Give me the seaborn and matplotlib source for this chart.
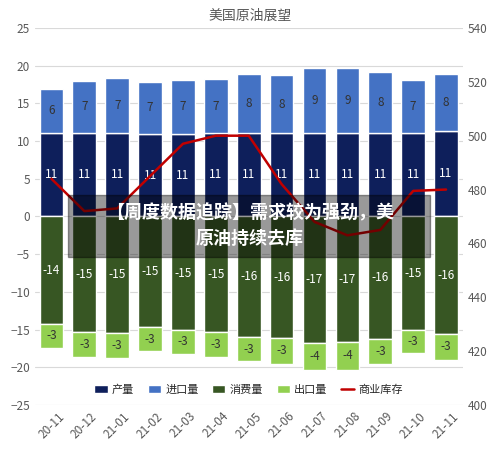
import matplotlib
matplotlib.use("Agg")
import matplotlib.pyplot as plt
import seaborn as sns
import numpy as np
import pandas as pd

sns.set_style("white")
plt.rcParams['font.family'] = ['Noto Sans CJK SC', 'DejaVu Sans']

months = ["20-11","20-12","21-01","21-02","21-03","21-04","21-05","21-06","21-07","21-08","21-09","21-10","21-11"]
production = [11.1,11.1,11.1,11.0,11.0,11.1,11.1,11.1,11.1,11.1,11.1,11.1,11.3]
imports = [5.8,6.9,7.3,6.9,7.1,7.1,7.8,7.6,8.6,8.6,8.1,7.0,7.6]
consumption = [-14.2,-15.3,-15.4,-14.7,-15.0,-15.3,-16.0,-16.1,-16.8,-16.7,-16.2,-15.0,-15.6]
exports = [-3.2,-3.4,-3.4,-3.2,-3.2,-3.4,-3.2,-3.4,-3.6,-3.6,-3.4,-3.1,-3.4]
inventory = [484,472,473,485,497,500,500,482,468,463,465,479.5,480]

fig = plt.figure(figsize=(5,4.51), dpi=100)
ax = fig.add_axes([0.07,0.102,0.855,0.836])
x = np.arange(len(months))
w = 0.72
c_prod, c_imp, c_con, c_exp = "#0e1f5b", "#4472c4", "#375623", "#92d050"
p = np.array(production); im = np.array(imports); co = np.array(consumption); ex = np.array(exports)
ax.bar(x, p, w, color=c_prod, label="产量", zorder=2)
ax.bar(x, im, w, bottom=p, color=c_imp, label="进口量", zorder=2)
ax.bar(x, co, w, color=c_con, label="消费量", zorder=2)
ax.bar(x, ex, w, bottom=co, color=c_exp, label="出口量", zorder=2)
for i in range(len(x)):
    ax.text(x[i], p[i]/2, f"{p[i]:.0f}", ha="center", va="center", color="white", fontsize=8.5, zorder=3)
    ax.text(x[i], p[i]+im[i]/2, f"{im[i]:.0f}", ha="center", va="center", color="#333333", fontsize=8.5, zorder=3)
    ax.text(x[i], co[i]/2, f"{co[i]:.0f}", ha="center", va="center", color="white", fontsize=8.5, zorder=3)
    ax.text(x[i], co[i]+ex[i]/2, f"{ex[i]:.0f}", ha="center", va="center", color="#333333", fontsize=8.5, zorder=3)
ax.set_ylim(-25, 25)
ax.set_yticks(range(-25, 26, 5))
ax.set_xlim(-0.5, len(x)-0.5)
ax.set_xticks(x)
ax.set_xticklabels(months, rotation=45, fontsize=8.5, color="#595959")
ax.tick_params(axis="y", labelsize=8.5, colors="#595959", length=0)
ax.tick_params(axis="x", length=0)
ax.grid(axis="y", color="#d9d9d9", lw=0.8, zorder=0)
for s in ax.spines.values():
    s.set_visible(False)

ax2 = ax.twinx()
sns.lineplot(x=x, y=inventory, ax=ax2, color="#c00000", lw=1.8, label="商业库存", legend=False)
ax2.set_ylim(400, 540)
ax2.set_yticks(range(400, 541, 20))
ax2.tick_params(axis="y", labelsize=8.5, colors="#595959", length=0)
for s in ax2.spines.values():
    s.set_visible(False)

h1, l1 = ax.get_legend_handles_labels()
h2, l2 = ax2.get_legend_handles_labels()
ax.legend(h1+h2, l1+l2, loc="lower center", bbox_to_anchor=(0.5, 0.0), ncol=5, frameon=False,
          fontsize=8, handlelength=1.2, columnspacing=1.2, handletextpad=0.4)
fig.text(0.5, 0.965, "美国原油展望", ha="center", va="center", fontsize=10, color="#595959")

fig.patches.append(plt.Rectangle((0.135, 0.43), 0.725, 0.138, transform=fig.transFigure,
                                 color="black", alpha=0.4, zorder=10))
fig.text(0.5, 0.5, "【周度数据追踪】需求较为强劲，美\n原油持续去库", ha="center", va="center",
         fontsize=13, color="white", fontweight="bold", zorder=11, linespacing=1.4)
fig.savefig("out.png", dpi=100)
